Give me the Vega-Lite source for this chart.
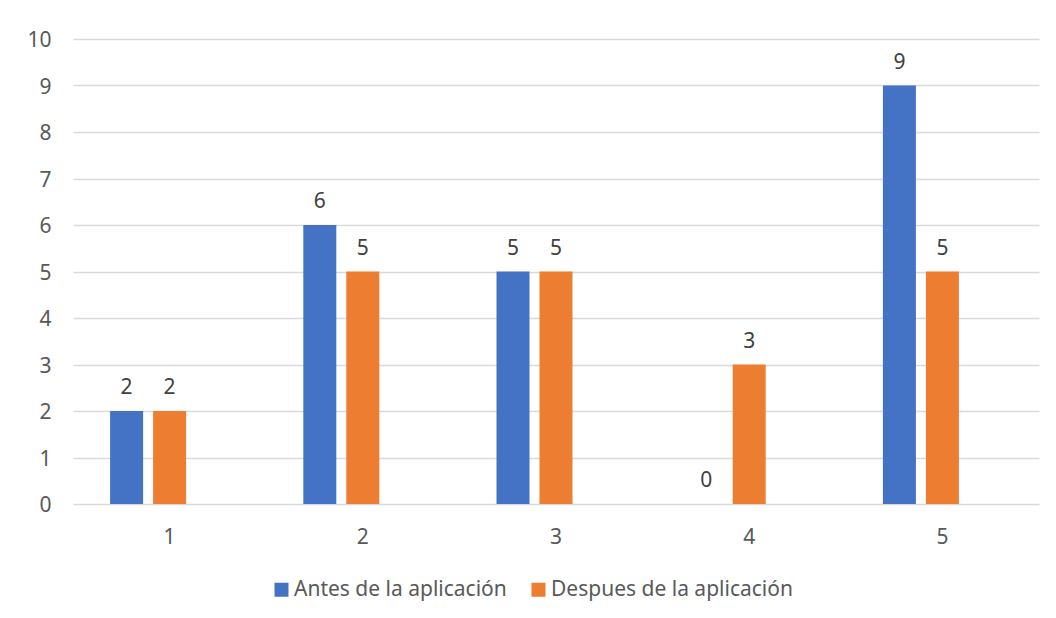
{
  "$schema": "https://vega.github.io/schema/vega-lite/v6.json",
  "width": 966,
  "height": 465,
  "autosize": {"type": "none"},
  "padding": {"left": 73, "top": 39, "right": 17, "bottom": 114},
  "background": "white",
  "config": {"view": {"stroke": null}, "font": "Noto Sans"},
  "data": {
    "values": [
      {"grupo": "1", "serie": "Antes de la aplicación", "valor": 2},
      {"grupo": "1", "serie": "Despues de la aplicación", "valor": 2},
      {"grupo": "2", "serie": "Antes de la aplicación", "valor": 6},
      {"grupo": "2", "serie": "Despues de la aplicación", "valor": 5},
      {"grupo": "3", "serie": "Antes de la aplicación", "valor": 5},
      {"grupo": "3", "serie": "Despues de la aplicación", "valor": 5},
      {"grupo": "4", "serie": "Antes de la aplicación", "valor": 0},
      {"grupo": "4", "serie": "Despues de la aplicación", "valor": 3},
      {"grupo": "5", "serie": "Antes de la aplicación", "valor": 9},
      {"grupo": "5", "serie": "Despues de la aplicación", "valor": 5}
    ]
  },
  "encoding": {
    "x": {
      "field": "grupo",
      "type": "nominal",
      "sort": ["1", "2", "3", "4", "5"],
      "scale": {"paddingInner": 0, "paddingOuter": 0},
      "axis": {
        "title": null,
        "labelAngle": 0,
        "domain": false,
        "ticks": false,
        "tickSize": 0,
        "labelPadding": 39,
        "labelBaseline": "alphabetic",
        "labelFontSize": 21,
        "labelColor": "#595959",
        "labelFont": "Noto Sans"
      }
    },
    "xOffset": {
      "field": "serie",
      "type": "nominal",
      "scale": {
        "domain": ["Antes de la aplicación", "Despues de la aplicación", "(vacía)"],
        "paddingInner": 0.2326,
        "paddingOuter": 0.863
      }
    },
    "y": {
      "field": "valor",
      "type": "quantitative",
      "scale": {"domain": [0, 10], "nice": false},
      "axis": {
        "title": null,
        "values": [0, 1, 2, 3, 4, 5, 6, 7, 8, 9, 10],
        "domain": false,
        "ticks": false,
        "tickSize": 0,
        "labelPadding": 22,
        "labelBaseline": "alphabetic",
        "labelOffset": 7.5,
        "labelFontSize": 21,
        "labelColor": "#595959",
        "labelFont": "Noto Sans",
        "gridColor": "#d9d9d9",
        "gridWidth": 1.3
      }
    }
  },
  "layer": [
    {
      "mark": {"type": "bar"},
      "encoding": {
        "color": {
          "field": "serie",
          "type": "nominal",
          "scale": {
            "domain": ["Antes de la aplicación", "Despues de la aplicación"],
            "range": ["#4472C4", "#ED7D31"]
          },
          "legend": {
            "title": null,
            "orient": "none",
            "legendX": 198,
            "legendY": 540,
            "direction": "horizontal",
            "symbolType": "square",
            "symbolSize": 196,
            "symbolStrokeWidth": 0,
            "labelFontSize": 21,
            "labelFont": "Noto Sans",
            "labelColor": "#595959",
            "labelOffset": 2,
            "labelLimit": 0,
            "columnPadding": 21,
            "padding": 0
          }
        }
      }
    },
    {
      "mark": {"type": "text", "baseline": "alphabetic", "dy": -17, "fontSize": 21, "color": "#404040", "font": "Noto Sans"},
      "encoding": {"text": {"field": "valor", "type": "quantitative"}}
    }
  ]
}
